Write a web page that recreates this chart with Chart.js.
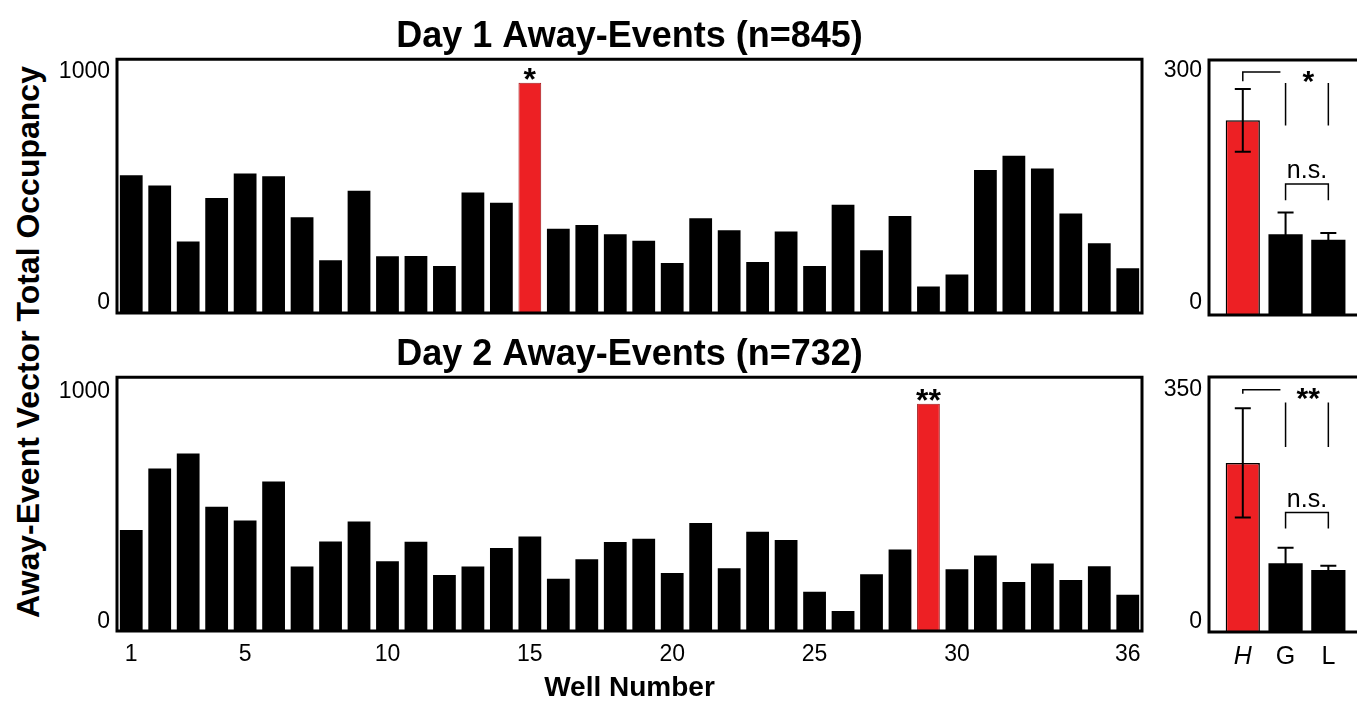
<!DOCTYPE html>
<html>
<head>
<meta charset="utf-8">
<title>Away-Event Vector Total Occupancy</title>
<script src="https://cdn.jsdelivr.net/npm/chart.js@4.4.1/dist/chart.umd.min.js"></script>
<style>
  html, body { margin: 0; padding: 0; background: #fff; width: 1357px; height: 702px; overflow: hidden; }
  canvas { position: absolute; }
  #ytitle {
    position: absolute; left: 28px; top: 342px;
    transform: translate(-50%, -50%) rotate(-90deg);
    font: bold 32px "Liberation Sans", Arial, Helvetica, sans-serif;
    white-space: nowrap; color: #000;
  }
</style>
</head>
<body>
<div id="ytitle">Away-Event Vector Total Occupancy</div>
<canvas id="day1Wells" width="1099" height="305" style="left:47px;top:12px"></canvas>
<canvas id="day2Wells" width="1099" height="374" style="left:47px;top:331px"></canvas>
<canvas id="day1Groups" width="208" height="263" style="left:1149px;top:56px"></canvas>
<canvas id="day2Groups" width="208" height="299" style="left:1149px;top:373px"></canvas>
<script>
// ---- data ----
const wells = ['1','2','3','4','5','6','7','8','9','10','11','12','13','14','15','16','17','18',
               '19','20','21','22','23','24','25','26','27','28','29','30','31','32','33','34','35','36'];
const shownWells = ['1', '5', '10', '15', '20', '25', '30', '36'];

const day1Occupancy = [543, 502, 282, 453, 550, 539, 377, 208, 482, 224, 225, 185, 475, 434, 907, 332, 347, 310,
                       285, 197, 373, 326, 201, 321, 185, 427, 247, 382, 104, 152, 563, 620, 569, 392, 275, 176];
const day2Occupancy = [398, 640, 699, 490, 435, 589, 254, 353, 431, 275, 352, 221, 254, 327, 372, 206, 283, 351,
                       363, 229, 426, 247, 391, 359, 155, 79, 224, 321, 895, 243, 297, 193, 266, 201, 255, 143];
const day1Peak = '15';
const day2Peak = '29';

const groups = ['H', 'G', 'L'];
const day1Means = [229, 95, 88.5];
const day1Errors = [37, 25.5, 8];
const day2Means = [232, 94.5, 85];
const day2Errors = [75, 21, 6];

const wellTickLabels = ['0', '1000'];
const day1GroupTickLabels = ['0', '300'];
const day2GroupTickLabels = ['0', '350'];

// tick labels sit just inside the frame corners, as in the figure
const day1TickAt = [39, 949];
const day2TickAt = [35, 945];
const day1GroupTickAt = [14, 287];
const day2GroupTickAt = [14, 333];

// significance brackets (x in group slots, y in axis units)
const day1Marks = { star: '*', starAt: [2.53, 264], hook: [1, 1.88, 286, 275],
                    drops: [[2, 273, 223], [3, 273, 223]], ns: [2, 3, 154, 135], nsAt: [2.5, 161] };
const day2Marks = { star: '**', starAt: [2.53, 308], hook: [1, 1.88, 332.6, 327],
                    drops: [[2, 315, 254], [3, 315, 254]], ns: [2, 3, 164, 142], nsAt: [2.5, 172] };

const RED = '#ed2024';
const FONT = '"Liberation Sans", Arial, Helvetica, sans-serif';
Chart.defaults.font.family = FONT;
Chart.defaults.color = '#000';

// keep the plot box exactly where it is set, no room reserved for label overhang
function fixY(width) {
  return s => { s.width = width; s.paddingTop = 0; s.paddingBottom = 0; };
}
function fixX(height) {
  return s => { if (height) s.height = height; s.paddingLeft = 0; s.paddingRight = 0; };
}

// ---- small plugins ----
function framePlugin(openRight) {
  return {
    id: 'frame',
    afterDatasetsDraw(chart) {
      const { ctx, chartArea: a } = chart;
      ctx.save();
      ctx.strokeStyle = '#000';
      ctx.lineWidth = 3;
      ctx.beginPath();
      if (openRight) {
        ctx.moveTo(a.right + 10, a.top);
        ctx.lineTo(a.left, a.top);
        ctx.lineTo(a.left, a.bottom);
        ctx.lineTo(a.right + 10, a.bottom);
      } else {
        ctx.rect(a.left, a.top, a.right - a.left, a.bottom - a.top);
      }
      ctx.stroke();
      ctx.restore();
    }
  };
}

function peakStarPlugin(index, text) {
  return {
    id: 'peakStar',
    afterDatasetsDraw(chart) {
      const bar = chart.getDatasetMeta(0).data[index];
      const ctx = chart.ctx;
      ctx.save();
      ctx.fillStyle = '#000';
      ctx.font = 'bold 32px ' + FONT;
      ctx.textAlign = 'center';
      ctx.textBaseline = 'alphabetic';
      ctx.fillText(text, bar.x, bar.y + 7);
      ctx.restore();
    }
  };
}

function errorBarPlugin(means, errors) {
  return {
    id: 'errorBars',
    afterDatasetsDraw(chart) {
      const { ctx } = chart;
      const y = chart.scales.y;
      ctx.save();
      ctx.strokeStyle = '#000';
      ctx.lineWidth = 2;
      chart.getDatasetMeta(0).data.forEach((bar, i) => {
        const top = y.getPixelForValue(means[i] + errors[i]);
        const bot = y.getPixelForValue(means[i] - errors[i]);
        ctx.beginPath();
        ctx.moveTo(bar.x, top); ctx.lineTo(bar.x, bot);
        ctx.moveTo(bar.x - 8, top); ctx.lineTo(bar.x + 8, top);
        ctx.moveTo(bar.x - 8, bot); ctx.lineTo(bar.x + 8, bot);
        ctx.stroke();
      });
      ctx.restore();
    }
  };
}

function bracketPlugin(marks) {
  return {
    id: 'brackets',
    afterDatasetsDraw(chart) {
      const { ctx } = chart;
      const X = v => chart.scales.x.getPixelForValue(v);
      const Y = v => chart.scales.y.getPixelForValue(v);
      ctx.save();
      ctx.strokeStyle = '#000';
      ctx.lineWidth = 1.5;
      ctx.beginPath();
      const [x1, x2, yh, yt] = marks.hook;
      ctx.moveTo(X(x1), Y(yt)); ctx.lineTo(X(x1), Y(yh)); ctx.lineTo(X(x2), Y(yh));
      marks.drops.forEach(([x, a, b]) => { ctx.moveTo(X(x), Y(a)); ctx.lineTo(X(x), Y(b)); });
      const [n1, n2, ny, nt] = marks.ns;
      ctx.moveTo(X(n1), Y(nt)); ctx.lineTo(X(n1), Y(ny)); ctx.lineTo(X(n2), Y(ny)); ctx.lineTo(X(n2), Y(nt));
      ctx.stroke();
      ctx.fillStyle = '#000';
      ctx.textAlign = 'center';
      ctx.textBaseline = 'alphabetic';
      ctx.font = 'bold 30px ' + FONT;
      ctx.fillText(marks.star, X(marks.starAt[0]), Y(marks.starAt[1]));
      ctx.font = '25px ' + FONT;
      ctx.fillText('n.s.', X(marks.nsAt[0]), Y(marks.nsAt[1]));
      ctx.restore();
    }
  };
}

// ---- well-by-well panels ----
function wellChart(id, title, values, peak, star, tickAt, withAxis) {
  return new Chart(document.getElementById(id), {
    type: 'bar',
    data: {
      labels: wells,
      datasets: [{
        data: values,
        backgroundColor: wells.map(w => w === peak ? RED : '#000'),
        borderColor: wells.map(w => w === peak ? '#a3181b' : '#000'),
        borderWidth: wells.map(w => w === peak ? 1 : 0),
        categoryPercentage: 1,
        barPercentage: 0.8
      }]
    },
    options: {
      responsive: false,
      animation: false,
      devicePixelRatio: 1,
      layout: { padding: { top: 0, right: 4, bottom: withAxis ? 0 : 4, left: 0 } },
      plugins: {
        legend: { display: false },
        tooltip: { enabled: false },
        title: {
          display: true, text: title, color: '#000', fullSize: false,
          font: { size: 36, weight: 'bold' },
          padding: withAxis ? { top: 2, bottom: 1 } : { top: 3, bottom: 1 }
        }
      },
      scales: {
        x: {
          display: withAxis,
          grid: { display: false, drawTicks: false },
          border: { display: false },
          ticks: {
            autoSkip: false, maxRotation: 0, padding: 10, color: '#000',
            font: { size: 23 },
            callback: (v, i) => shownWells.includes(wells[i]) ? wells[i] : ''
          },
          title: {
            display: true, text: 'Well Number', color: '#000',
            font: { size: 28, weight: 'bold' }, padding: { top: 0, bottom: 0 }
          },
          afterFit: fixX(withAxis ? 74 : 0)
        },
        y: {
          min: 0, max: 1000,
          grid: { display: false, drawTicks: false },
          border: { display: false },
          afterBuildTicks: s => { s.ticks = tickAt.map(v => ({ value: v })); },
          ticks: { padding: 7, color: '#000', font: { size: 23 }, callback: (v, i) => wellTickLabels[i] },
          afterFit: fixY(70)
        }
      }
    },
    plugins: [framePlugin(false), peakStarPlugin(wells.indexOf(peak), star)]
  });
}

// ---- H / G / L summary panels ----
function groupChart(id, means, errors, tickLabels, tickAt, yMax, marks, withAxis) {
  return new Chart(document.getElementById(id), {
    type: 'bar',
    data: {
      datasets: [{
        data: means.map((m, i) => ({ x: i + 1, y: m })),
        backgroundColor: groups.map(g => g === 'H' ? RED : '#000'),
        borderColor: '#000',
        borderWidth: groups.map(g => g === 'H' ? 1.5 : 0),
        categoryPercentage: 1,
        barPercentage: 0.8
      }]
    },
    options: {
      responsive: false,
      animation: false,
      devicePixelRatio: 1,
      layout: { padding: { top: 4, right: 0, bottom: withAxis ? 0 : 4, left: 0 } },
      plugins: { legend: { display: false }, tooltip: { enabled: false } },
      scales: {
        x: {
          type: 'linear', min: 0.21, max: 3.67, offset: false,
          display: withAxis,
          grid: { display: false, drawTicks: false },
          border: { display: false },
          afterBuildTicks: s => { s.ticks = groups.map((g, i) => ({ value: i + 1 })); },
          ticks: {
            padding: 10, color: '#000',
            font: c => ({ size: 25, style: groups[c.index] === 'H' ? 'italic' : 'normal' }),
            callback: (v, i) => groups[i]
          },
          afterFit: fixX(withAxis ? 40 : 0)
        },
        y: {
          min: 0, max: yMax,
          grid: { display: false, drawTicks: false },
          border: { display: false },
          afterBuildTicks: s => { s.ticks = tickAt.map(v => ({ value: v })); },
          ticks: { padding: 7, color: '#000', font: { size: 23 }, callback: (v, i) => tickLabels[i] },
          afterFit: fixY(60)
        }
      }
    },
    plugins: [framePlugin(true), errorBarPlugin(means, errors), bracketPlugin(marks)]
  });
}

wellChart('day1Wells', 'Day 1 Away-Events (n=845)', day1Occupancy, day1Peak, '*', day1TickAt, false);
wellChart('day2Wells', 'Day 2 Away-Events (n=732)', day2Occupancy, day2Peak, '**', day2TickAt, true);
groupChart('day1Groups', day1Means, day1Errors, day1GroupTickLabels, day1GroupTickAt, 300, day1Marks, false);
groupChart('day2Groups', day2Means, day2Errors, day2GroupTickLabels, day2GroupTickAt, 350, day2Marks, true);
</script>
</body>
</html>
